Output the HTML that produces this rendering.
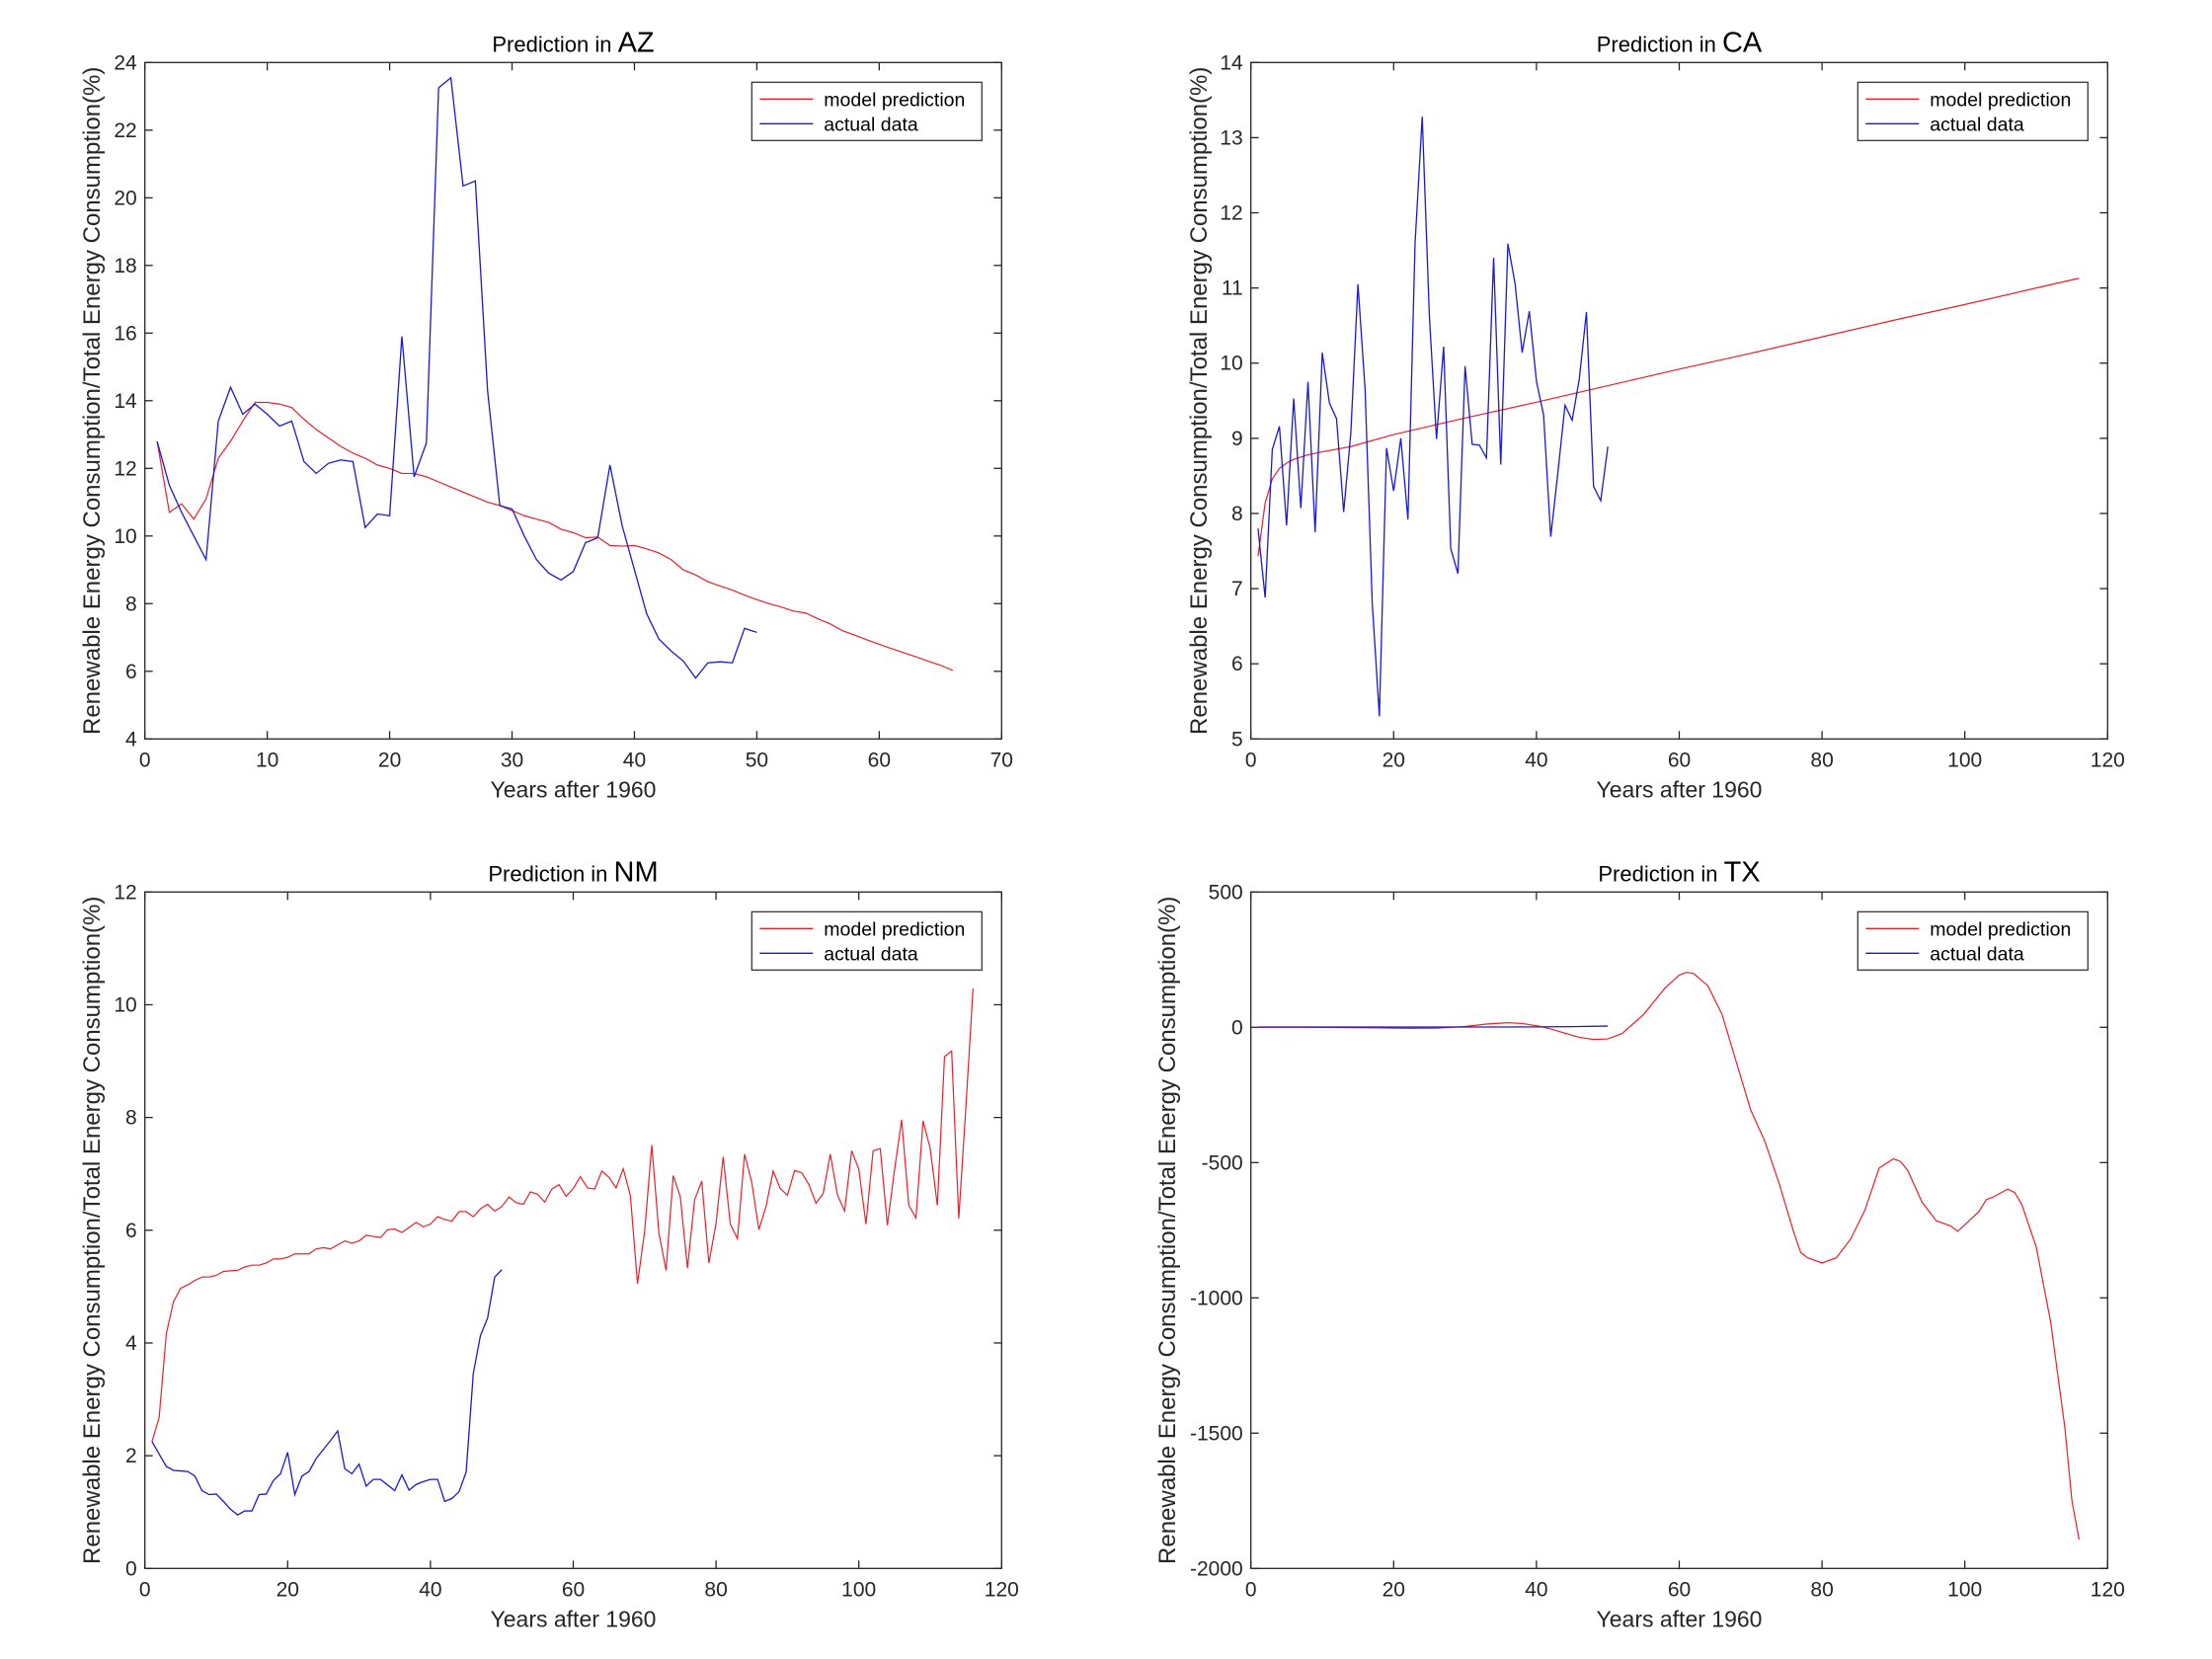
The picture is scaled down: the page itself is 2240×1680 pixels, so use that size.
<!DOCTYPE html>
<html><head><meta charset="utf-8">
<style>
html,body{margin:0;padding:0;background:#fff;}
svg{display:block;font-family:"Liberation Sans",Arial,sans-serif;}
</style></head>
<body>
<svg id="fig" width="2240" height="1680" viewBox="0 0 2240 1680" xmlns="http://www.w3.org/2000/svg"></svg>
<script>
// ---------- AZ ----------
const azActualX = [1,2,3,4,5,6,7,8,9,10,11,12,13,14,15,16,17,18,19,20,21,22,23,24,25,26,27,28,29,30,31,32,33,34,35,36,37,38,39,40,41,42,43,44,45,46,47,48,49,50];
const azActual = [12.8,11.5,10.7,10.0,9.3,13.4,14.4,13.6,13.9,13.6,13.25,13.4,12.2,11.85,12.15,12.25,12.2,10.25,10.65,10.6,15.9,11.75,12.75,23.25,23.55,20.35,20.5,14.3,10.9,10.8,10.0,9.3,8.9,8.7,8.95,9.8,9.95,12.1,10.3,9.0,7.7,6.95,6.6,6.3,5.8,6.25,6.28,6.25,7.27,7.15];
const azModelX = [1,2,3,4,5,6,7,8,9,10,11,12,13,14,15,16,17,18,19,20,21,22,23,24,25,26,27,28,29,30,31,32,33,34,35,36,37,38,39,40,41,42,43,44,45,46,47,48,49,50,51,52,53,54,55,56,57,58,59,60,61,62,63,64,65,66];
const azModel = [12.8,10.7,10.95,10.5,11.1,12.3,12.8,13.4,13.95,13.95,13.9,13.8,13.45,13.15,12.9,12.65,12.45,12.3,12.1,12.0,11.85,11.85,11.75,11.6,11.45,11.3,11.15,11.0,10.9,10.75,10.6,10.5,10.4,10.2,10.1,9.95,9.97,9.72,9.7,9.72,9.62,9.5,9.3,9.0,8.85,8.65,8.52,8.4,8.25,8.12,8.0,7.9,7.78,7.72,7.55,7.4,7.2,7.07,6.93,6.8,6.67,6.55,6.43,6.3,6.18,6.03];
const azXTicks = [0,10,20,30,40,50,60,70];
const azYTicks = [4,6,8,10,12,14,16,18,20,22,24];
// ---------- CA ----------
const caActualX = [1,2,3,4,5,6,7,8,9,10,11,12,13,14,15,16,17,18,19,20,21,22,23,24,25,26,27,28,29,30,31,32,33,34,35,36,37,38,39,40,41,42,43,44,45,46,47,48,49,50];
const caActual = [7.8,6.88,8.85,9.16,7.84,9.53,8.07,9.75,7.75,10.14,9.47,9.26,8.02,9.07,11.05,9.65,6.81,5.3,8.87,8.3,9.0,7.92,11.6,13.28,10.63,8.99,10.22,7.53,7.2,9.96,8.92,8.91,8.74,11.4,8.65,11.59,11.06,10.14,10.69,9.76,9.31,7.69,8.54,9.44,9.24,9.79,10.68,8.36,8.17,8.89];
const caModelX = [1,2,3,4,5,6,8,10,14,20,30,40,50,60,70,80,90,100,110,116];
const caModel = [7.43,8.14,8.46,8.6,8.67,8.72,8.78,8.82,8.89,9.05,9.27,9.48,9.7,9.92,10.13,10.35,10.57,10.78,11.0,11.13];
const caXTicks = [0,20,40,60,80,100,120];
const caYTicks = [5,6,7,8,9,10,11,12,13,14];
// ---------- NM ----------
const nmActualX = [1,2,3,4,5,6,7,8,9,10,11,12,13,14,15,16,17,18,19,20,21,22,23,24,25,26,27,28,29,30,31,32,33,34,35,36,37,38,39,40,41,42,43,44,45,46,47,48,49,50];
const nmActual = [2.25,2.03,1.81,1.74,1.73,1.72,1.64,1.38,1.31,1.32,1.19,1.05,0.95,1.02,1.02,1.31,1.32,1.56,1.68,2.06,1.31,1.64,1.72,1.95,2.11,2.27,2.44,1.77,1.68,1.85,1.46,1.58,1.58,1.48,1.38,1.66,1.39,1.49,1.54,1.58,1.58,1.19,1.24,1.36,1.71,3.46,4.13,4.44,5.17,5.3];
const nmModelX = [1,2,3,4,5,6,7,8,9,10,11,12,13,14,15,16,17,18,19,20,21,22,23,24,25,26,27,28,29,30,31,32,33,34,35,36,37,38,39,40,41,42,43,44,45,46,47,48,49,50,51,52,53,54,55,56,57,58,59,60,61,62,63,64,65,66,67,68,69,70,71,72,73,74,75,76,77,78,79,80,81,82,83,84,85,86,87,88,89,90,91,92,93,94,95,96,97,98,99,100,101,102,103,104,105,106,107,108,109,110,111,112,113,114,115,116];
const nmModel = [2.25,2.68,4.16,4.73,4.97,5.03,5.11,5.17,5.17,5.2,5.27,5.28,5.29,5.35,5.38,5.38,5.42,5.49,5.49,5.52,5.58,5.58,5.58,5.67,5.69,5.67,5.74,5.81,5.77,5.81,5.91,5.89,5.87,6.01,6.02,5.96,6.05,6.14,6.06,6.11,6.24,6.19,6.16,6.33,6.33,6.24,6.38,6.46,6.34,6.42,6.59,6.49,6.46,6.68,6.64,6.5,6.73,6.81,6.6,6.74,6.95,6.75,6.73,7.05,6.94,6.75,7.09,6.62,5.05,5.98,7.51,5.95,5.29,6.97,6.59,5.33,6.54,6.87,5.42,6.12,7.3,6.11,5.85,7.35,6.85,6.01,6.42,7.05,6.74,6.62,7.06,7.02,6.81,6.48,6.65,7.35,6.63,6.34,7.41,7.08,6.11,7.41,7.45,6.09,7.07,7.96,6.44,6.22,7.94,7.45,6.44,9.08,9.18,6.21,8.2,10.29];
const nmXTicks = [0,20,40,60,80,100,120];
const nmYTicks = [0,2,4,6,8,10,12];
// ---------- TX ----------
const txActualX = [1,5,10,15,20,25,30,35,40,45,50];
const txActual = [1.2,1.0,0.9,0.9,0.8,0.9,1.0,1.1,1.5,2.5,4.5];
const txModelX = [1,10,18,22,26,30,33,36,38,40,42,44,46,48,50,52,55,58,60,61,62,64,66,68,70,72,74,76,77,78,80,82,84,86,88,90,91,92,94,96,98,99,100,101,102,103,104,106,107,108,110,112,114,115,116];
const txModel = [0,0,-2,-4,-3,3,12,17,14,6,-6,-22,-37,-45,-43,-23,47,145,193,203,199,154,47,-129,-305,-422,-578,-754,-832,-852,-871,-852,-783,-676,-520,-486,-496,-529,-646,-715,-734,-754,-730,-705,-680,-637,-627,-598,-611,-656,-812,-1086,-1477,-1750,-1893];
const txXTicks = [0,20,40,60,80,100,120];
const txYTicks = [-2000,-1500,-1000,-500,0,500];

const NS = "http://www.w3.org/2000/svg";
const svg = document.getElementById('fig');
function mk(tag, attrs, parent){
  const e = document.createElementNS(NS, tag);
  for (const k in attrs) e.setAttribute(k, attrs[k]);
  (parent||svg).appendChild(e);
  return e;
}

function drawPanel(cfg){
  const g = mk('g', {});
  
  
  const L=cfg.L, R=cfg.R, T=cfg.T, B=cfg.B;
  const sx = v => L + (v - cfg.xmin)/(cfg.xmax - cfg.xmin)*(R-L);
  const sy = v => B - (v - cfg.ymin)/(cfg.ymax - cfg.ymin)*(B-T);
  const t = mk('text', {x:(L+R)/2, y:T-11, 'text-anchor':'middle', 'font-size':22, fill:'#000'}, g);
  
  
  const t1 = mk('tspan', {}, t); t1.textContent = 'Prediction in ';
  const t2 = mk('tspan', {'font-size':29}, t); t2.textContent = cfg.state;
  cfg.xticks.forEach(v=>{
    const x = sx(v);
    mk('line',{x1:x,y1:B,x2:x,y2:B-8,stroke:'#262626','stroke-width':1.3},g);
    mk('line',{x1:x,y1:T,x2:x,y2:T+8,stroke:'#262626','stroke-width':1.3},g);
    const tl = mk('text',{x:x,y:B+28,'text-anchor':'middle','font-size':21,fill:'#262626'},g);
    
    
    tl.textContent = v;
  });
  cfg.yticks.forEach(v=>{
    const y = sy(v);
    mk('line',{x1:L,y1:y,x2:L+8,y2:y,stroke:'#262626','stroke-width':1.3},g);
    mk('line',{x1:R,y1:y,x2:R-8,y2:y,stroke:'#262626','stroke-width':1.3},g);
    const tl = mk('text',{x:L-8,y:y+7,'text-anchor':'end','font-size':21,fill:'#262626'},g);
    
    
    tl.textContent = v;
  });
  const pts = (xs, ys) => xs.map((x,i)=> sx(x).toFixed(2)+','+sy(ys[i]).toFixed(2)).join(' ');
  const pm = mk('polyline',{points:pts(cfg.mx,cfg.my),fill:'none',stroke:'#e8202a','stroke-width':1.2},g);
  
  
  const pa = mk('polyline',{points:pts(cfg.ax,cfg.ay),fill:'none',stroke:'#1a1ad0','stroke-width':1.3},g);
  
  
  mk('rect',{x:L,y:T,width:R-L,height:B-T,fill:'none',stroke:'#262626','stroke-width':1.3},g);
  const xl = mk('text',{x:(L+R)/2,y:B+59,'text-anchor':'middle','font-size':23,fill:'#262626'},g);
  
  
  xl.textContent = 'Years after 1960';
  const yl = mk('text',{x:0,y:0,'text-anchor':'middle','font-size':24,fill:'#262626',
    transform:'translate('+cfg.ylx+','+((T+B)/2)+') rotate(-90)'},g);
  
  
  yl.textContent = 'Renewable Energy Consumption/Total Energy Consumption(%)';
  const lw=233, lh=59, lx=R-20-lw, ly=T+20;
  const lg = mk('g',{},g);
  
  
  mk('rect',{x:lx,y:ly,width:lw,height:lh,fill:'#fff',stroke:'#262626','stroke-width':1.2},lg);
  mk('line',{x1:lx+8,y1:ly+17,x2:lx+62,y2:ly+17,stroke:'#e8202a','stroke-width':1.3},lg);
  mk('line',{x1:lx+8,y1:ly+42,x2:lx+62,y2:ly+42,stroke:'#1a1ad0','stroke-width':1.3},lg);
  const le1 = mk('text',{x:lx+73,y:ly+24,'font-size':19.5,fill:'#000'},lg);
  
  
  le1.textContent='model prediction';
  const le2 = mk('text',{x:lx+73,y:ly+49,'font-size':19.5,fill:'#000'},lg);
  
  
  le2.textContent='actual data';
}

drawPanel({key:'az',state:'AZ',L:146.7,R:1014.3,T:63.3,B:748.3,xmin:0,xmax:70,ymin:4,ymax:24,
  xticks:azXTicks,yticks:azYTicks,mx:azModelX,my:azModel,ax:azActualX,ay:azActual,ylx:101});
drawPanel({key:'ca',state:'CA',L:1266.7,R:2134.3,T:63.3,B:748.3,xmin:0,xmax:120,ymin:5,ymax:14,
  xticks:caXTicks,yticks:caYTicks,mx:caModelX,my:caModel,ax:caActualX,ay:caActual,ylx:1222});
drawPanel({key:'nm',state:'NM',L:146.7,R:1014.3,T:903.3,B:1588.3,xmin:0,xmax:120,ymin:0,ymax:12,
  xticks:nmXTicks,yticks:nmYTicks,mx:nmModelX,my:nmModel,ax:nmActualX,ay:nmActual,ylx:101});
drawPanel({key:'tx',state:'TX',L:1266.7,R:2134.3,T:903.3,B:1588.3,xmin:0,xmax:120,ymin:-2000,ymax:500,
  xticks:txXTicks,yticks:txYTicks,mx:txModelX,my:txModel,ax:txActualX,ay:txActual,ylx:1190});
</script>
</body></html>
